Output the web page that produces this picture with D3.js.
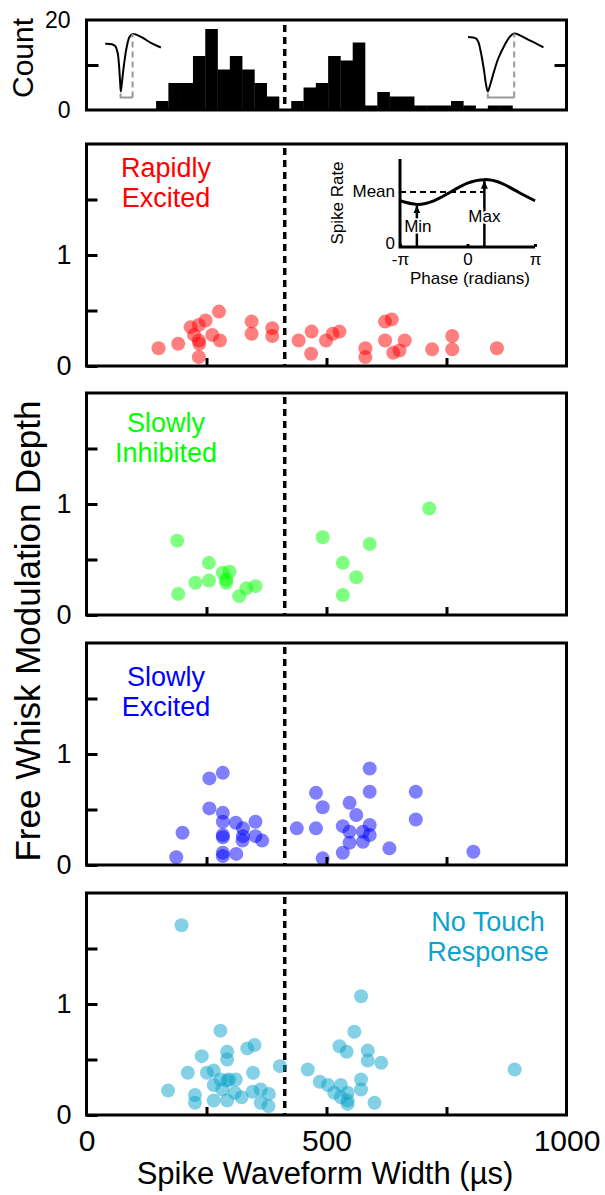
<!DOCTYPE html>
<html>
<head>
<meta charset="utf-8">
<script src="https://cdn.jsdelivr.net/npm/d3@7"></script>
<style>
  body { margin: 0; background: #fff; }
  svg { display: block; font-family: "Liberation Sans", Arial, Helvetica, sans-serif; }
</style>
</head>
<body>
<div id="chart"></div>
<script>
// Histogram of spike waveform widths (us), counts per bin
var binStart = 145, binWidth = 25.6;
var binCounts = [2, 6, 6, 12, 18, 9, 12, 9, 6, 3, 0, 2, 5, 6, 12, 11, 15, 1, 4, 3, 3, 1, 1, 1, 2, 1, 0, 1, 1];
var dividerWidth = 413;

// Scatter data: [waveform width (us), free whisk modulation depth]
var rapidlyExcited = [[150, 0.16], [191, 0.2], [217, 0.35], [234, 0.37], [248, 0.41], [224, 0.28], [234, 0.23],
  [235, 0.2], [234, 0.08], [262, 0.28], [276, 0.49], [278, 0.23], [344, 0.4], [344, 0.29], [387, 0.34],
  [387, 0.27], [442, 0.23], [469, 0.31], [468, 0.11], [499, 0.23], [513, 0.29], [527, 0.31], [581, 0.16],
  [581, 0.08], [622, 0.4], [636, 0.42], [622, 0.23], [639, 0.12], [652, 0.14], [663, 0.23], [720, 0.15],
  [762, 0.27], [762, 0.15], [855, 0.16]];
var slowlyInhibited = [[189, 0.67], [191, 0.19], [227, 0.29], [255, 0.47], [255, 0.31], [284, 0.38], [298, 0.39],
  [291, 0.32], [291, 0.29], [318, 0.17], [333, 0.24], [352, 0.26], [492, 0.7], [534, 0.47], [534, 0.18],
  [562, 0.34], [590, 0.64], [714, 0.96]];
var slowlyExcited = [[187, 0.07], [200, 0.29], [256, 0.78], [284, 0.83], [256, 0.51], [284, 0.47], [284, 0.39],
  [284, 0.27], [284, 0.25], [284, 0.11], [284, 0.08], [311, 0.38], [326, 0.33], [326, 0.26], [325, 0.22],
  [352, 0.39], [352, 0.26], [366, 0.22], [312, 0.1], [438, 0.33], [478, 0.65], [478, 0.33], [492, 0.52],
  [492, 0.06], [534, 0.35], [534, 0.11], [548, 0.56], [548, 0.3], [548, 0.2], [562, 0.45], [576, 0.3],
  [576, 0.21], [590, 0.87], [590, 0.66], [590, 0.36], [590, 0.27], [631, 0.15], [686, 0.66], [686, 0.41],
  [806, 0.12]];
var noTouchResponse = [[198, 1.71], [170, 0.22], [211, 0.38], [226, 0.18], [226, 0.11], [240, 0.53], [251, 0.38],
  [265, 0.4], [265, 0.27], [265, 0.13], [279, 0.76], [279, 0.32], [283, 0.23], [293, 0.57], [293, 0.5],
  [293, 0.31], [293, 0.13], [297, 0.32], [311, 0.32], [309, 0.2], [323, 0.16], [335, 0.6], [350, 0.63],
  [347, 0.38], [346, 0.21], [363, 0.23], [363, 0.11], [380, 0.19], [379, 0.08], [403, 0.44], [461, 0.41],
  [486, 0.3], [503, 0.27], [516, 0.2], [530, 0.27], [527, 0.62], [542, 0.57], [530, 0.16], [544, 0.2],
  [544, 0.13], [544, 0.1], [558, 0.75], [572, 1.07], [572, 0.32], [572, 0.23], [586, 0.58], [586, 0.49],
  [614, 0.47], [600, 0.11], [892, 0.41]];

// Example spike waveforms drawn in the histogram, [us, count] in histogram units
var narrowSpike = [[39, 14.7], [53, 14.6], [60, 14.2], [65, 12.6], [68, 9.6], [70, 6.3], [71.5, 4.1], [74, 6.3],
  [78.5, 10.4], [84, 14.1], [89.5, 16.2], [96, 16.9], [105, 16.7], [119, 15.9], [136, 14.8], [155, 13.9]];
var broadSpike = [[795, 16.2], [811, 15.9], [816, 15.2], [822, 12.6], [828, 8.9], [832, 5.9], [836, 4.1],
  [841, 5.6], [848, 8.2], [858, 11.5], [871, 14.4], [882, 16.3], [891, 17.0], [903, 16.6], [921, 15.6],
  [938, 14.7], [952, 13.9]];
var narrowBracket = [71, 96], broadBracket = [836, 891], bracketCount = 2.8;

// Inset: spike rate vs whisk phase
var insetPhase = [-Math.PI, -3 * Math.PI / 4, -Math.PI / 2, -Math.PI / 4, 0, Math.PI / 4, Math.PI / 2, 3 * Math.PI / 4, Math.PI];
var insetRate = [0.84, 0.775, 0.84, 1.0, 1.16, 1.225, 1.16, 1.0, 0.84];
var insetMean = 1.0;
var phaseTicks = [-Math.PI, 0, Math.PI], phaseLabels = ['-\u03c0', '0', '\u03c0'];

var xMinorTicks = [250, 500, 750], xLabelTicks = [0, 500, 1000];
var depthTicks = [0, 0.5, 1, 1.5], countTicks = [0, 10, 20];

var panels = [
  { data: rapidlyExcited, color: '#ff0000', lines: ['Rapidly', 'Excited'], tx: 166, ty: 177 },
  { data: slowlyInhibited, color: '#00ff00', lines: ['Slowly', 'Inhibited'], tx: 166, ty: 432 },
  { data: slowlyExcited, color: '#0000ff', lines: ['Slowly', 'Excited'], tx: 166, ty: 686 },
  { data: noTouchResponse, color: '#0aa3cc', lines: ['No Touch', 'Response'], tx: 488, ty: 931 }
];

var width = 605, height = 1195;
var panelTops = [144, 393, 643, 893], panelH = 222;

var svg = d3.select('#chart').append('svg')
  .attr('width', width)
  .attr('height', height);

var x = d3.scaleLinear().domain([0, 1000]).range([86.5, 566.5]);

// ---- histogram ----
var yH = d3.scaleLinear().domain([0, 20]).range([110, 20]);

svg.append('g').selectAll('rect')
  .data(binCounts)
  .enter().append('rect')
  .attr('x', function(d, i) { return x(binStart + i * binWidth); })
  .attr('width', function(d, i) { return x(binStart + (i + 1) * binWidth) - x(binStart + i * binWidth) + 0.3; })
  .attr('y', function(d) { return yH(d); })
  .attr('height', function(d) { return yH(0) - yH(d); })
  .attr('fill', '#000');

var wave = d3.line()
  .curve(d3.curveCatmullRom)
  .x(function(d) { return x(d[0]); })
  .y(function(d) { return yH(d[1]); });

[[narrowSpike, narrowBracket], [broadSpike, broadBracket]].forEach(function(w) {
  var b = w[1];
  svg.append('path')
    .attr('d', wave(w[0]))
    .attr('fill', 'none')
    .attr('stroke', '#000')
    .attr('stroke-width', 2);
  svg.append('path')
    .attr('d', 'M' + x(b[0]) + ',' + (yH(bracketCount) - 4) + 'V' + yH(bracketCount) + 'H' + x(b[1]))
    .attr('fill', 'none')
    .attr('stroke', '#999')
    .attr('stroke-width', 2);
  svg.append('line')
    .attr('x1', x(b[1])).attr('x2', x(b[1]))
    .attr('y1', yH(bracketCount)).attr('y2', yH(17))
    .attr('stroke', '#999')
    .attr('stroke-width', 2)
    .attr('stroke-dasharray', '6,4');
});

svg.append('line')
  .attr('x1', x(dividerWidth)).attr('x2', x(dividerWidth))
  .attr('y1', yH(20)).attr('y2', yH(0))
  .attr('stroke', '#000')
  .attr('stroke-width', 3.5)
  .attr('stroke-dasharray', '7,5')
  .attr('stroke-dashoffset', -5);

var hAxisL = d3.axisLeft(yH)
  .tickValues(countTicks)
  .tickSize(-12)
  .tickPadding(16)
  .tickFormat(function(d) { return d === 10 ? '' : d; });

var hl = svg.append('g')
  .attr('transform', 'translate(' + x(0) + ',0)')
  .call(hAxisL);
hl.select('.domain').remove();
hl.selectAll('line').attr('stroke-width', 3).filter(function(d) { return d !== 10; }).remove();
hl.selectAll('text').attr('font-size', 23).attr('fill', '#000').attr('font-family', null);

var hAxisR = d3.axisRight(yH).tickValues([10]).tickSize(-12).tickFormat('');
var hr = svg.append('g')
  .attr('transform', 'translate(' + x(1000) + ',0)')
  .call(hAxisR);
hr.select('.domain').remove();
hr.selectAll('line').attr('stroke-width', 3);

svg.append('rect')
  .attr('x', x(0)).attr('y', yH(20))
  .attr('width', x(1000) - x(0)).attr('height', yH(0) - yH(20))
  .attr('fill', 'none')
  .attr('stroke', '#000')
  .attr('stroke-width', 3);

svg.append('text')
  .attr('transform', 'translate(33,58) rotate(-90)')
  .attr('text-anchor', 'middle')
  .attr('font-size', 30)
  .text('Count');

// ---- scatter panels ----
panels.forEach(function(p, k) {
  var top = panelTops[k];
  var y = d3.scaleLinear().domain([0, 2]).range([top + panelH, top]);
  var g = svg.append('g');

  g.append('line')
    .attr('x1', x(dividerWidth)).attr('x2', x(dividerWidth))
    .attr('y1', y(2)).attr('y2', y(0))
    .attr('stroke', '#000')
    .attr('stroke-width', 3.5)
    .attr('stroke-dasharray', '7,5')
    .attr('stroke-dashoffset', -4);

  g.selectAll('circle')
    .data(p.data)
    .enter().append('circle')
    .attr('cx', function(d) { return x(d[0]); })
    .attr('cy', function(d) { return y(d[1]); })
    .attr('r', 7)
    .attr('fill', p.color)
    .attr('fill-opacity', 0.5);

  var yAxis = d3.axisLeft(y)
    .tickValues(depthTicks)
    .tickSize(-11)
    .tickPadding(15)
    .tickFormat(function(d) { return (d === 0 || d === 1) ? d : ''; });
  var ya = g.append('g')
    .attr('transform', 'translate(' + x(0) + ',0)')
    .call(yAxis);
  ya.select('.domain').remove();
  ya.selectAll('line').attr('stroke-width', 3);
  ya.selectAll('text').attr('font-size', 27).attr('fill', '#000').attr('font-family', null);

  var xAxis = d3.axisBottom(x)
    .tickValues(xMinorTicks)
    .tickSize(-8)
    .tickFormat('');
  var xa = g.append('g')
    .attr('transform', 'translate(0,' + y(0) + ')')
    .call(xAxis);
  xa.select('.domain').remove();
  xa.selectAll('line').attr('stroke-width', 3);

  g.append('rect')
    .attr('x', x(0)).attr('y', y(2))
    .attr('width', x(1000) - x(0)).attr('height', y(0) - y(2))
    .attr('fill', 'none')
    .attr('stroke', '#000')
    .attr('stroke-width', 3);

  g.append('text')
    .attr('text-anchor', 'middle')
    .attr('font-size', 27)
    .attr('fill', p.color)
    .selectAll('tspan')
    .data(p.lines)
    .enter().append('tspan')
    .attr('x', p.tx)
    .attr('y', function(d, i) { return p.ty + i * 29.5; })
    .text(function(d) { return d; });

  if (k === panels.length - 1) {
    var xl = g.append('g')
      .attr('transform', 'translate(0,' + y(0) + ')')
      .call(d3.axisBottom(x).tickValues(xLabelTicks).tickSize(0).tickPadding(15).tickFormat(d3.format('d')));
    xl.select('.domain').remove();
    xl.selectAll('text').attr('font-size', 30).attr('fill', '#000').attr('font-family', null);
  }
});

// ---- inset in first panel ----
var xP = d3.scaleLinear().domain([-Math.PI, Math.PI]).range([400, 535]);
var yP = d3.scaleLinear().domain([0, 1.6]).range([247, 159]);
var inset = svg.append('g');

svg.append('defs').append('marker')
  .attr('id', 'arrow')
  .attr('viewBox', '0 -4 8 8')
  .attr('refX', 8)
  .attr('refY', 0)
  .attr('markerUnits', 'userSpaceOnUse')
  .attr('markerWidth', 8)
  .attr('markerHeight', 8)
  .attr('orient', 'auto')
  .append('path')
  .attr('d', 'M0,-3.5L8,0L0,3.5Z')
  .attr('fill', '#000');

inset.append('line')
  .attr('x1', xP(-Math.PI)).attr('x2', xP(0.75))
  .attr('y1', yP(insetMean)).attr('y2', yP(insetMean))
  .attr('stroke', '#000')
  .attr('stroke-width', 2)
  .attr('stroke-dasharray', '6,4');

var pts = insetPhase.map(function(p, i) { return [p, insetRate[i]]; });
inset.append('path')
  .attr('d', d3.line().curve(d3.curveNatural)
    .x(function(d) { return xP(d[0]); })
    .y(function(d) { return yP(d[1]); })(pts))
  .attr('fill', 'none')
  .attr('stroke', '#000')
  .attr('stroke-width', 3);

var iMin = d3.minIndex(insetRate), iMax = d3.maxIndex(insetRate);
[iMin, iMax].forEach(function(i) {
  inset.append('line')
    .attr('x1', xP(insetPhase[i])).attr('x2', xP(insetPhase[i]))
    .attr('y1', yP(0)).attr('y2', yP(insetRate[i]) + 1)
    .attr('stroke', '#000')
    .attr('stroke-width', 2.5)
    .attr('marker-end', 'url(#arrow)');
});
inset.append('text')
  .attr('x', xP(insetPhase[iMin]) + 1).attr('y', 232)
  .attr('text-anchor', 'middle')
  .attr('font-size', 17)
  .attr('stroke', '#fff').attr('stroke-width', 3).attr('paint-order', 'stroke')
  .text('Min');
inset.append('text')
  .attr('x', xP(insetPhase[iMax])).attr('y', 222)
  .attr('text-anchor', 'middle')
  .attr('font-size', 17)
  .attr('stroke', '#fff').attr('stroke-width', 4).attr('paint-order', 'stroke')
  .text('Max');

var ia = inset.append('g')
  .attr('transform', 'translate(0,' + yP(0) + ')')
  .call(d3.axisBottom(xP).tickValues(phaseTicks).tickSize(-3).tickPadding(6)
    .tickFormat(function(d, i) { return phaseLabels[i]; }));
ia.select('.domain').remove();
ia.selectAll('line').attr('stroke-width', 3);
ia.selectAll('text').attr('font-size', 17).attr('fill', '#000').attr('font-family', null);

inset.append('path')
  .attr('d', 'M' + xP(-Math.PI) + ',' + yP(1.6) + 'V' + yP(0) + 'H' + xP(Math.PI))
  .attr('fill', 'none')
  .attr('stroke', '#000')
  .attr('stroke-width', 3);

inset.append('text')
  .attr('x', xP(-Math.PI) - 5).attr('y', yP(0) - 3).attr('dy', '0.3em')
  .attr('text-anchor', 'end')
  .attr('font-size', 17)
  .text('0');
inset.append('text')
  .attr('x', xP(-Math.PI) - 5).attr('y', yP(insetMean)).attr('dy', '0.3em')
  .attr('text-anchor', 'end')
  .attr('font-size', 17)
  .text('Mean');
inset.append('text')
  .attr('transform', 'translate(343,203) rotate(-90)')
  .attr('text-anchor', 'middle')
  .attr('font-size', 17)
  .text('Spike Rate');
inset.append('text')
  .attr('x', 470).attr('y', 284)
  .attr('text-anchor', 'middle')
  .attr('font-size', 17)
  .text('Phase (radians)');

// ---- shared axis titles ----
svg.append('text')
  .attr('transform', 'translate(40,631) rotate(-90)')
  .attr('text-anchor', 'middle')
  .attr('font-size', 35)
  .text('Free Whisk Modulation Depth');

svg.append('text')
  .attr('x', 325).attr('y', 1184)
  .attr('text-anchor', 'middle')
  .attr('font-size', 31)
  .text('Spike Waveform Width (\u00b5s)');
</script>
</body>
</html>
